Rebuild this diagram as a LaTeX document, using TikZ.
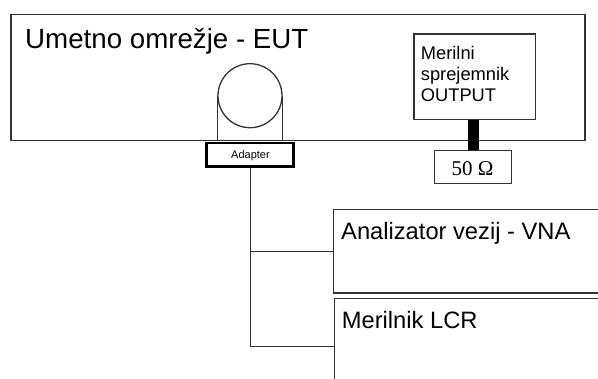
\documentclass[tikz,border=0pt]{standalone}
\usepackage{fontspec}
\setmainfont{Liberation Sans}
\newfontfamily\serifface{Liberation Serif}
\begin{document}
\begin{tikzpicture}[x=1pt,y=-1pt,
  thinline/.style={draw=black!80,line width=1.3pt},
  boxstyle/.style={thinline,rectangle,inner sep=0pt,anchor=north west},
  lbl/.style={inner sep=0pt,anchor=base west,text=black}]
\path[use as bounding box,clip] (0,0) rectangle (598,379);
% main box
\node[boxstyle,minimum width=574,minimum height=126] (eut) at (10.3,13.7) {};
\node[lbl,font=\fontsize{27.7}{33}\selectfont] (eutt) at (25,48.3) {Umetno omrežje - EUT};
% receiver
\node[boxstyle,minimum width=121.7,minimum height=85.7] (rec) at (413.3,33.3) {};
\node[lbl,font=\fontsize{18.3}{21}\selectfont] (rec1) at (420.7,59.3) {Merilni};
\node[lbl,font=\fontsize{18.3}{21}\selectfont] (rec2) at (420.7,81) {sprejemnik};
\node[lbl,font=\fontsize{18.3}{21}\selectfont] (rec3) at (420.7,101.7) {OUTPUT};
% 50 ohm
\node[boxstyle,minimum width=77,minimum height=32.7] (ohm) at (434,150) {};
\node[inner sep=0pt,anchor=base,font=\serifface\fontsize{21}{25}\selectfont] (ohmt) at (472.5,175.7) {50 Ω};
\draw[line width=10.7pt] (rec.south -| 473.7,0) -- (ohm.north -| 473.7,0);
% coil
\node[thinline,circle,minimum size=64,inner sep=0pt] (coil) at (250,95.7) {};
\draw[thinline] (coil.west) -- (coil.west |- eut.south);
\draw[thinline] (coil.east) -- (coil.east |- eut.south);
% adapter
\node[draw=black,line width=2.8pt,rectangle,inner sep=0pt,minimum width=87,minimum height=23.5] (adapter) at (250.3,154.8) {};
\node[inner sep=0pt,anchor=base,font=\fontsize{11}{12}\selectfont] (adt) at (250.5,158.3) {Adapter};
% VNA and LCR
\node[boxstyle,minimum width=280,minimum height=83.3] (vna) at (332.7,209) {};
\node[lbl,font=\fontsize{23.7}{27}\selectfont] (vnat) at (341,239.3) {Analizator vezij - VNA};
\node[boxstyle,minimum width=280,minimum height=96] (lcr) at (333.7,297.7) {};
\node[lbl,font=\fontsize{23.7}{27}\selectfont] (lcrt) at (341.7,328.3) {Merilnik LCR};
% connectors
\coordinate (j1) at (adapter.south |- vna.west);
\coordinate (j2) at (adapter.south |- lcr.west);
\draw[thinline] (adapter.south) -- (j2) -- (lcr.west);
\draw[thinline] (j1) -- (vna.west);
\end{tikzpicture}
\end{document}
